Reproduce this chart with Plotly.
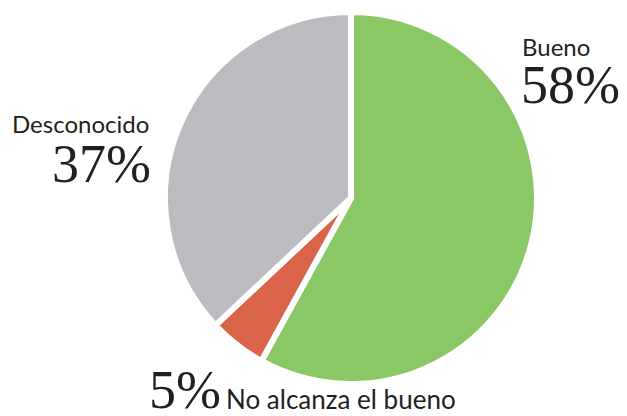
import plotly.graph_objects as go

categories = ["Bueno", "No alcanza el bueno", "Desconocido"]
values = [58, 5, 37]
pct_labels = ["58%", "5%", "37%"]
colors = ["#8AC866", "#D9644A", "#BBBCC0"]

W, H = 627, 416
cx, cy, r = 351, 198, 186

fig = go.Figure(go.Pie(
    labels=categories,
    values=values,
    sort=False,
    direction="clockwise",
    rotation=0,
    textinfo="none",
    hoverinfo="label+percent",
    marker=dict(colors=colors, line=dict(color="white", width=6)),
    domain=dict(x=[(cx - r) / W, (cx + r) / W], y=[(H - cy - r) / H, (H - cy + r) / H]),
    showlegend=False,
))

lab_font = dict(family="Lato", size=24, color="#231F20")
lab_font_b = dict(family="Lato", size=26, color="#231F20")
num_font = dict(family="Liberation Serif", size=54, color="#231F20")

def px(x):
    return x / W

def py(y):
    return 1 - y / H

anns = [
    dict(x=px(11), y=py(139), text=categories[2], font=lab_font, xanchor="left", yanchor="bottom"),
    dict(x=px(152), y=py(195), text=pct_labels[2], font=num_font, xanchor="right", yanchor="bottom"),
    dict(x=px(521), y=py(62), text=categories[0], font=lab_font, xanchor="left", yanchor="bottom"),
    dict(x=px(520), y=py(116), text=pct_labels[0], font=num_font, xanchor="left", yanchor="bottom"),
    dict(x=px(222), y=py(421), text=pct_labels[1], font=num_font, xanchor="right", yanchor="bottom"),
    dict(x=px(225), y=py(416), text=categories[1], font=lab_font_b, xanchor="left", yanchor="bottom"),
]
for a in anns:
    a.update(xref="paper", yref="paper", showarrow=False, borderpad=0)

fig.update_layout(
    width=W, height=H,
    margin=dict(l=0, r=0, t=0, b=0),
    paper_bgcolor="white", plot_bgcolor="white",
    annotations=anns,
)

fig.write_html("out.html", config={"displayModeBar": False},
               post_script="document.body.style.margin='0';")
